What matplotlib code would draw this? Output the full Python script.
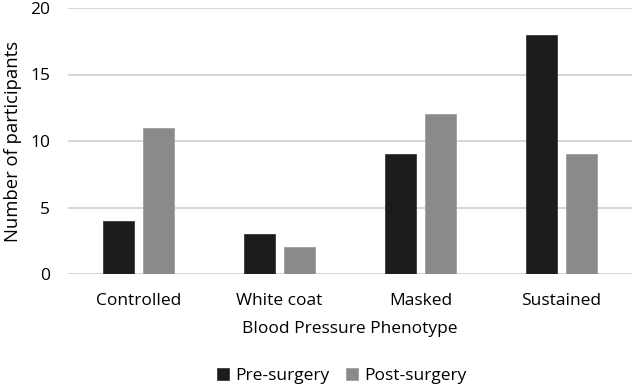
import numpy as np
import matplotlib.pyplot as plt

plt.rcParams['font.family'] = ['Open Sans', 'DejaVu Sans']

categories = ['Controlled', 'White coat', 'Masked', 'Sustained']
pre_surgery = [4, 3, 9, 18]
post_surgery = [11, 2, 12, 9]

x = np.arange(len(categories))
w = 0.22
off = 0.142

fig = plt.figure(figsize=(6.33, 3.84), dpi=100)
ax = fig.add_axes([68/633, 1 - 274/384, 564/633, 266/384])

ax.bar(x - off, pre_surgery, w, color='#1c1c1c', edgecolor='#3a3a3a', linewidth=0.6,
       label='Pre-surgery', zorder=3)
ax.bar(x + off, post_surgery, w, color='#8a8a8a', edgecolor='#a0a0a0', linewidth=0.6,
       label='Post-surgery', zorder=3)

ax.set_xlim(-0.5, 3.5)
ax.set_ylim(0, 20)
ax.set_yticks([0, 5, 10, 15, 20])
ax.set_xticks(x)
ax.set_xticklabels(categories)
ax.tick_params(axis='both', length=0, labelsize=12.5, colors='black')
ax.tick_params(axis='x', pad=14)
ax.tick_params(axis='y', pad=13)
ax.grid(axis='y', color='#cfcfcf', linewidth=1.2, zorder=0)
for s in ax.spines.values():
    s.set_visible(False)

ax.set_xlabel('Blood Pressure Phenotype', fontsize=12.5, labelpad=8)
ax.set_ylabel('Number of participants', fontsize=13.3, labelpad=6)

fig.legend(loc='lower center', ncol=2, frameon=False, fontsize=12.5,
           bbox_to_anchor=(0.54, -0.04), handlelength=0.7, handleheight=0.7,
           handletextpad=0.4, columnspacing=0.9)

fig.savefig('out.png', dpi=100)
